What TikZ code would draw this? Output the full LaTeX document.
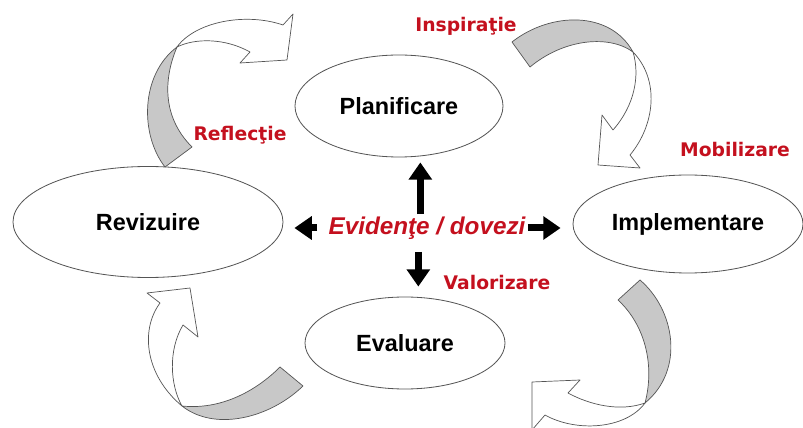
\documentclass[tikz,border=0pt]{standalone}
\usepackage{fontspec}
\setmainfont{Liberation Sans}
\newfontfamily\labfont{DejaVu Sans}
\usepackage{xcolor}
\usetikzlibrary{positioning}
\usetikzlibrary{calc}
\usetikzlibrary{shapes.geometric}
\usetikzlibrary{arrows.meta}
\definecolor{evred}{RGB}{196,16,30}
\definecolor{edgegray}{RGB}{85,85,85}
\definecolor{bandgray}{RGB}{200,200,200}

\begin{document}
\begin{tikzpicture}[x=0.03cm, y=-0.03cm,
    phase/.style={ellipse, draw=edgegray, line width=0.7pt, fill=white, inner sep=0pt,
        font=\fontsize{20}{24}\selectfont\bfseries},
    cue/.style={text=evred, font=\labfont\fontsize{16}{19}\selectfont\bfseries},
    bigarr/.style={line width=0.21cm, -{Triangle[width=0.68cm,length=0.52cm]}},
    bandtail/.style={draw=edgegray, line width=0.6pt, fill=bandgray, line join=round},
    bandhead/.style={draw=edgegray, line width=0.6pt, fill=white, line join=round}]
    \useasboundingbox (0,0) rectangle (803,428);

    \node[phase, minimum width=6.24cm, minimum height=3.06cm] (plan) at (399,106) {Planificare};
    \node[phase, minimum width=8.1cm, minimum height=3.33cm] (rev) at (148,222) {Revizuire};
    \node[phase, minimum width=6.9cm, minimum height=2.94cm] (impl) at (688,224) {Implementare};
    \node[phase, minimum width=6.0cm, minimum height=2.76cm] (evl) at (405,343) {Evaluare};

    \node[text=evred, inner sep=2pt, font=\fontsize{20.7}{24}\selectfont\bfseries\itshape] (ev) at (427,228) {Evidenţe / dovezi};

    \draw[bigarr, shorten >=0.15cm] ([xshift=-0.2cm]ev.north) -- ([xshift=-0.2cm]ev.north |- plan.south);
    \draw[bigarr, shorten <=0.3cm, shorten >=0.3cm] ([xshift=-0.26cm]ev.south) -- ([xshift=-0.26cm]ev.south |- evl.north);
    \draw[bigarr, shorten <=0.27cm, shorten >=0.33cm] (ev.west) -- (ev.west -| rev.east);
    \draw[bigarr, shorten >=0.36cm] (ev.east) -- (ev.east -| impl.west);

    \node[cue] (insp) at (466,26) {Inspiraţie};
    \node[cue] (refl) at (240,135) {Reflecţie};
    \node[cue] (mob) at (735,150) {Mobilizare};
    \node[cue] (val) at (497,283) {Valorizare};

    \filldraw[bandtail] (165,167) .. controls (140,135) and (140,75) .. (177,47)
        .. controls (165,75) and (160,115) .. (192,147) -- cycle;
    \filldraw[bandhead] (177,47) .. controls (195,22) and (245,12) .. (283,25) -- (293,14) -- (287,60)
        -- (240,63) -- (250,52) .. controls (225,38) and (195,38) .. (177,47) -- cycle;

    \filldraw[bandtail] (512,42) .. controls (550,12) and (610,10) .. (633,52)
        .. controls (610,35) and (565,38) .. (530,67) -- cycle;
    \filldraw[bandhead] (633,52) .. controls (660,80) and (655,125) .. (630,155) -- (640,168) -- (598,165)
        -- (602,115) -- (613,130) .. controls (635,105) and (640,75) .. (633,52) -- cycle;

    \filldraw[bandtail] (640,280) .. controls (675,310) and (685,370) .. (645,403)
        .. controls (655,365) and (645,325) .. (618,300) -- cycle;
    \filldraw[bandhead] (645,403) .. controls (620,412) and (590,405) .. (568,393) -- (580,380) -- (532,382)
        -- (532,430) -- (545,415) .. controls (575,432) and (625,430) .. (645,403) -- cycle;

    \filldraw[bandtail] (280,367) .. controls (255,392) and (220,410) .. (182,406)
        .. controls (215,432) and (270,418) .. (303,386) -- cycle;
    \filldraw[bandhead] (182,406) .. controls (145,375) and (140,330) .. (160,303) -- (147,293) -- (190,288)
        -- (198,337) -- (183,325) .. controls (168,350) and (170,385) .. (182,406) -- cycle;
\end{tikzpicture}
\end{document}
